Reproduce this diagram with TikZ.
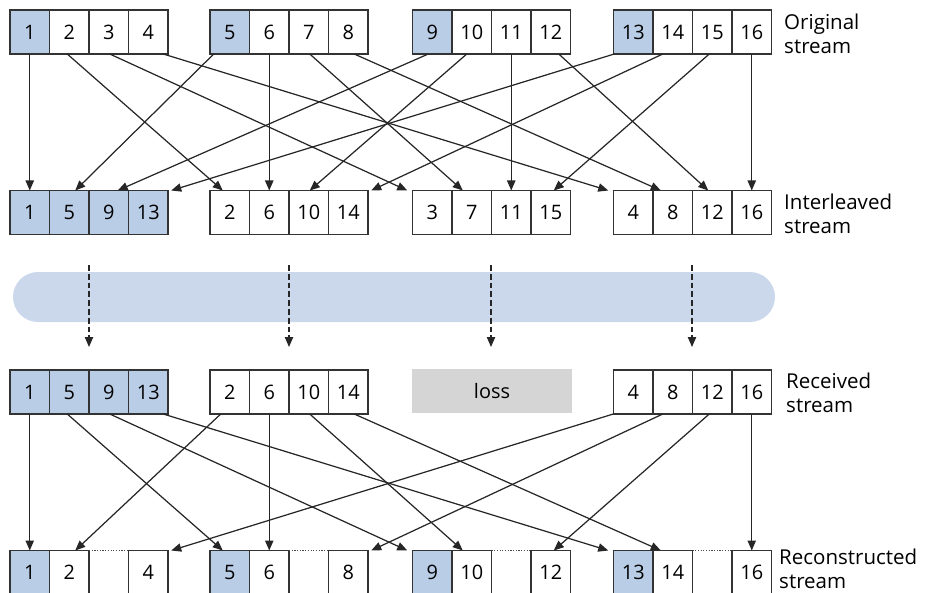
\documentclass[tikz,border=0pt]{standalone}
\usepackage{fontspec}
\setmainfont{Open Sans}
\usetikzlibrary{arrows.meta,calc}

\definecolor{pktblue}{RGB}{185,205,230}
\definecolor{bandblue}{RGB}{203,216,235}
\definecolor{lossgray}{RGB}{213,213,213}

\tikzset{
  cell/.style={rectangle, draw=black!80, line width=1.3pt, minimum width=1.185cm, minimum height=1.32cm,
    inner sep=0pt, outer sep=0pt, font=\fontsize{17}{20}\selectfont},
  first/.style={cell, fill=pktblue},
  link/.style={line width=1.05pt, black!85, -{Triangle[length=3mm,width=2.5mm]}},
  drop/.style={line width=1.05pt, black!85, dash pattern=on 5pt off 2.5pt, -{Triangle[length=3mm,width=2.5mm]}},
  streamlabel/.style={anchor=west, align=left, inner sep=0pt, font=\fontsize{17.5}{20.5}\selectfont},
}

\begin{document}
\begin{tikzpicture}[x=0.03cm, y=-0.03cm]
  \useasboundingbox (0,0) rectangle (928,593);

  % original stream
  \node[first] (o1) at (29.75,32) {1};  \node[cell] (o2) at (69.25,32) {2};  \node[cell] (o3) at (108.75,32) {3};  \node[cell] (o4) at (148.25,32) {4};
  \node[first] (o5) at (229.75,32) {5}; \node[cell] (o6) at (269.25,32) {6}; \node[cell] (o7) at (308.75,32) {7}; \node[cell] (o8) at (348.25,32) {8};
  \node[first] (o9) at (432.25,32) {9}; \node[cell] (o10) at (471.75,32) {10}; \node[cell] (o11) at (511.25,32) {11}; \node[cell] (o12) at (550.75,32) {12};
  \node[first] (o13) at (633.25,32) {13}; \node[cell] (o14) at (672.75,32) {14}; \node[cell] (o15) at (712.25,32) {15}; \node[cell] (o16) at (751.75,32) {16};

  % interleaved stream
  \node[first] (i1) at (29.75,212.5) {1};  \node[first] (i5) at (69.25,212.5) {5};  \node[first] (i9) at (108.75,212.5) {9};  \node[first] (i13) at (148.25,212.5) {13};
  \node[cell] (i2) at (229.75,212.5) {2};  \node[cell] (i6) at (269.25,212.5) {6};  \node[cell] (i10) at (308.75,212.5) {10}; \node[cell] (i14) at (348.25,212.5) {14};
  \node[cell] (i3) at (432.25,212.5) {3};  \node[cell] (i7) at (471.75,212.5) {7};  \node[cell] (i11) at (511.25,212.5) {11}; \node[cell] (i15) at (550.75,212.5) {15};
  \node[cell] (i4) at (633.25,212.5) {4};  \node[cell] (i8) at (672.75,212.5) {8};  \node[cell] (i12) at (712.25,212.5) {12}; \node[cell] (i16) at (751.75,212.5) {16};

  % received stream
  \node[first] (r1) at (29.75,392) {1};  \node[first] (r5) at (69.25,392) {5};  \node[first] (r9) at (108.75,392) {9};  \node[first] (r13) at (148.25,392) {13};
  \node[cell] (r2) at (229.75,392) {2};  \node[cell] (r6) at (269.25,392) {6};  \node[cell] (r10) at (308.75,392) {10}; \node[cell] (r14) at (348.25,392) {14};
  \node[fill=lossgray, minimum width=4.8cm, minimum height=1.32cm, inner sep=0pt, font=\fontsize{17}{20}\selectfont] (loss) at (492,391) {loss};
  \node[cell] (r4) at (633.25,392) {4};  \node[cell] (r8) at (672.75,392) {8};  \node[cell] (r12) at (712.25,392) {12}; \node[cell] (r16) at (751.75,392) {16};

  % reconstructed stream
  \node[first] (c1) at (29.75,572.5) {1};  \node[cell] (c2) at (69.25,572.5) {2};  \node[cell] (c4) at (148.25,572.5) {4};
  \node[first] (c5) at (229.75,572.5) {5}; \node[cell] (c6) at (269.25,572.5) {6}; \node[cell] (c8) at (348.25,572.5) {8};
  \node[first] (c9) at (432.25,572.5) {9}; \node[cell] (c10) at (471.75,572.5) {10}; \node[cell] (c12) at (550.75,572.5) {12};
  \node[first] (c13) at (633.25,572.5) {13}; \node[cell] (c14) at (672.75,572.5) {14}; \node[cell] (c16) at (751.75,572.5) {16};
  \draw[black!70, line width=0.9pt, dash pattern=on 1pt off 1.3pt] (c2.north east) -- (c4.north west);
  \draw[black!70, line width=0.9pt, dash pattern=on 1pt off 1.3pt] (c6.north east) -- (c8.north west);
  \draw[black!70, line width=0.9pt, dash pattern=on 1pt off 1.3pt] (c10.north east) -- (c12.north west);
  \draw[black!70, line width=0.9pt, dash pattern=on 1pt off 1.3pt] (c14.north east) -- (c16.north west);

  % labels
  \node[streamlabel] (lo) at (784,34) {Original\\stream};
  \node[streamlabel] (li) at (784,214) {Interleaved\\stream};
  \node[streamlabel] (lr) at (786,393) {Received\\stream};
  \node[streamlabel] (lc) at (779,569) {Reconstructed\\stream};

  % interleaving
  \draw[link] (o1.south) -- (i1.north);
  \draw[link] ($(o2.south)+(-2,0)$) -- ($(i2.north)+(-7,0)$);
  \draw[link] ($(o3.south)+(1,0)$) -- ($(i3.north)+(-25,0)$);
  \draw[link] ($(o4.south)+(15,0)$) -- ($(i4.north)+(-25,0)$);
  \draw[link] ($(o5.south)+(-16,0)$) -- ($(i5.north)+(6,0)$);
  \draw[link] (o6.south) -- (i6.north);
  \draw[link] ($(o7.south)+(1,0)$) -- ($(i7.north)+(-9,0)$);
  \draw[link] ($(o8.south)+(6,0)$) -- ($(i8.north)+(-12,0)$);
  \draw[link] ($(o9.south)+(-4,0)$) -- ($(i9.north)+(9,0)$);
  \draw[link] ($(o10.south)+(-5,0)$) -- ($(i10.north)+(1,0)$);
  \draw[link] (o11.south) -- (i11.north);
  \draw[link] ($(o12.south)+(8,0)$) -- ($(i12.north)+(-4,0)$);
  \draw[link] ($(o13.south)+(-19,0)$) -- ($(i13.north)+(23,0)$);
  \draw[link] ($(o14.south)+(-10,0)$) -- ($(i14.north)+(23,0)$);
  \draw[link] ($(o15.south)+(-3,0)$) -- ($(i15.north)+(3,0)$);
  \draw[link] (o16.south) -- (i16.north);

  % channel
  \fill[bandblue, rounded corners=0.75cm] (13,272) rectangle (775,322);
  \coordinate (s1) at (89,265);  \coordinate (e1) at (89,347);
  \coordinate (s2) at (289,265); \coordinate (e2) at (289,347);
  \coordinate (s3) at (491,265); \coordinate (e3) at (491,347);
  \coordinate (s4) at (692,265); \coordinate (e4) at (692,347);
  \draw[drop] (s1) -- (e1);
  \draw[drop] (s2) -- (e2);
  \draw[drop] (s3) -- (e3);
  \draw[drop] (s4) -- (e4);

  % de-interleaving
  \draw[link] (r1.south) -- (c1.north);
  \draw[link] ($(r5.south)+(-2,0)$) -- ($(c5.north)+(-7,0)$);
  \draw[link] ($(r9.south)+(1,0)$) -- ($(c9.north)+(-25,0)$);
  \draw[link] ($(r13.south)+(15,0)$) -- ($(c13.north)+(-25,0)$);
  \draw[link] ($(r2.south)+(-9,0)$) -- ($(c2.north)+(6,0)$);
  \draw[link] (r6.south) -- (c6.north);
  \draw[link] ($(r10.south)+(1,0)$) -- ($(c10.north)+(-9,0)$);
  \draw[link] ($(r14.south)+(6,0)$) -- ($(c14.north)+(-12,0)$);
  \draw[link] ($(r4.south)+(-20,0)$) -- ($(c4.north)+(23,0)$);
  \draw[link] ($(r8.south)+(-10,0)$) -- ($(c8.north)+(23,0)$);
  \draw[link] ($(r12.south)+(-3,0)$) -- ($(c12.north)+(3,0)$);
  \draw[link] (r16.south) -- (c16.north);
\end{tikzpicture}
\end{document}
